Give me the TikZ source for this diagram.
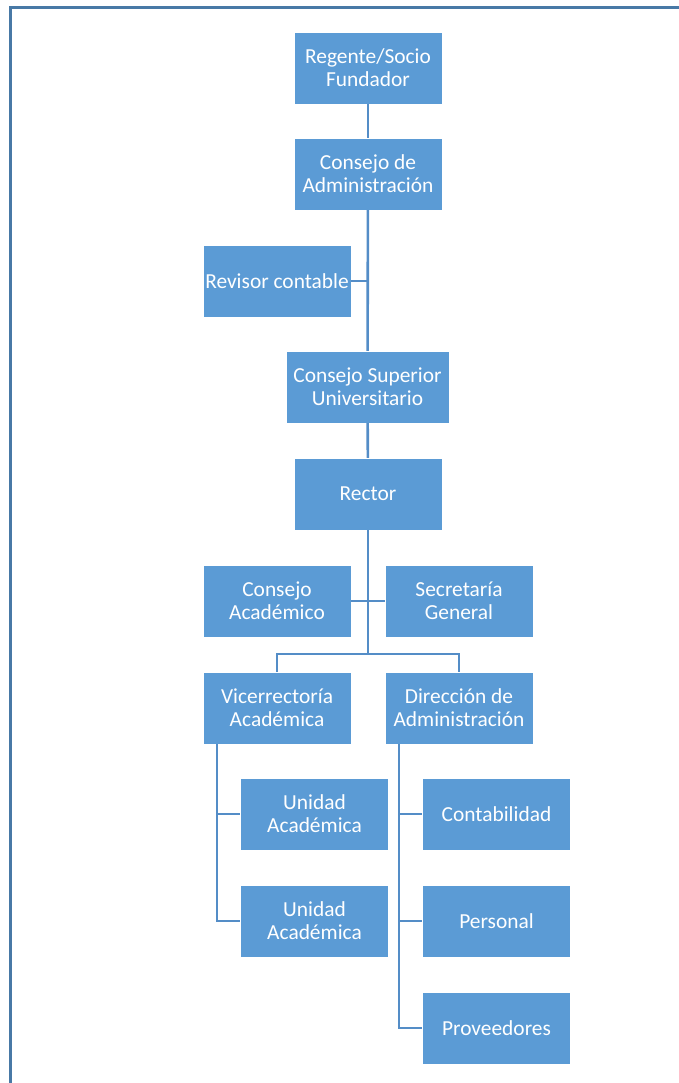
\documentclass[tikz,border=0pt]{standalone}
\usepackage{fontspec}
\setmainfont{Carlito}
\usepackage{tikz}
\usetikzlibrary{calc,positioning}
\definecolor{boxblue}{RGB}{91,155,213}
\definecolor{linkblue}{RGB}{84,141,199}
\definecolor{frameblue}{RGB}{72,121,166}
\tikzset{
  obox/.style={rectangle, fill=boxblue, draw=white, line width=0.4pt,
               minimum width=148pt, minimum height=72pt, inner sep=1pt,
               text=white, align=center, font=\fontsize{21.4}{23}\selectfont},
  conn/.style={linkblue, line width=2.6pt},
  frameline/.style={frameblue, line width=3pt},
}
\begin{document}
\begin{tikzpicture}[x=1pt,y=-1pt]
  \useasboundingbox (0,0) rectangle (679,1083);
  % marco
  \draw[frameline] (10.5,1083) -- (10.5,7.5) -- (679,7.5);
  % nivel superior
  \node[obox] (regente) at (368,68) {Regente/Socio\\Fundador};
  \node[obox] (cadmin) at (368,174) {Consejo de\\Administración};
  \node[obox] (revisor) at (277,281) {Revisor contable};
  \node[obox, minimum width=163pt] (csu) at (367.5,387) {Consejo Superior\\Universitario};
  \node[obox] (rector) at (368,494) {Rector};
  % asesores del rector
  \node[obox] (cacad) at (277,601) {Consejo\\Académico};
  \node[obox] (secgen) at (459,601) {Secretaría\\General};
  % vicerrectoria y direccion
  \node[obox] (vice) at (277,708) {Vicerrectoría\\Académica};
  \node[obox] (dir) at (459,708) {Dirección de\\Administración};
  \node[obox] (ua1) at (314.5,814) {Unidad\\Académica};
  \node[obox] (ua2) at (314.5,921) {Unidad\\Académica};
  \node[obox] (conta) at (496.5,814) {Contabilidad};
  \node[obox] (pers) at (496.5,921) {Personal};
  \node[obox] (prov) at (496.5,1028) {Proveedores};
  \coordinate (bar) at (368,654);
  \coordinate (vspine) at (217,744);
  \coordinate (dspine) at (399,744);
  % conexiones
  \draw[conn] (regente) -- (cadmin);
  \draw[conn] (cadmin) -- (csu);
  \draw[conn] (revisor.east) -- (revisor.east -| cadmin.south);
  \draw[conn] (csu) -- (rector);
  \draw[conn] (rector) -- (bar);
  \draw[conn] (cacad.east) -- (secgen.west);
  \draw[conn] (vice.north) -- (vice.north |- bar) -- (dir.north |- bar) -- (dir.north);
  \draw[conn] (vspine) |- (ua2.west);
  \draw[conn] (vspine |- ua1.west) -- (ua1.west);
  \draw[conn] (dspine) |- (prov.west);
  \foreach \n in {conta,pers}{
    \draw[conn] (dspine |- \n.west) -- (\n.west);
  }
\end{tikzpicture}
\end{document}
